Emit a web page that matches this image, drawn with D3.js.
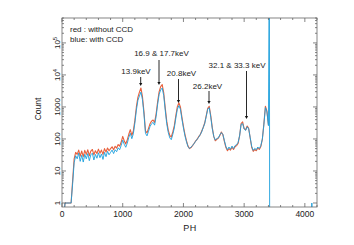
<!DOCTYPE html>
<html>
<head>
<meta charset="utf-8">
<script src="https://cdn.jsdelivr.net/npm/d3@7"></script>
<style>
  body { margin: 0; background: #fff; }
  svg { display: block; font-family: "Liberation Sans", Arial, sans-serif; }
</style>
</head>
<body>
<svg width="354" height="245"></svg>
<script>
const width = 354;
const height = 245;

// pulse height channels
const ph = [
  0, 25, 50, 75, 100, 125, 150, 175, 200, 225,
  250, 275, 300, 325, 350, 375, 400, 425, 450, 475,
  500, 525, 550, 575, 600, 625, 650, 675, 700, 725,
  750, 775, 800, 825, 850, 875, 900, 925, 950, 975,
  1000, 1025, 1050, 1075, 1100, 1125, 1150, 1175, 1200, 1225,
  1250, 1275, 1300, 1325, 1350, 1375, 1400, 1425, 1450, 1475,
  1500, 1525, 1550, 1575, 1600, 1625, 1650, 1675, 1700, 1725,
  1750, 1775, 1800, 1825, 1850, 1875, 1900, 1925, 1950, 1975,
  2000, 2025, 2050, 2075, 2100, 2125, 2150, 2175, 2200, 2225,
  2250, 2275, 2300, 2325, 2350, 2375, 2400, 2425, 2450, 2475,
  2500, 2525, 2550, 2575, 2600, 2625, 2650, 2675, 2700, 2725,
  2750, 2775, 2800, 2825, 2850, 2875, 2900, 2925, 2950, 2975,
  3000, 3025, 3050, 3075, 3100, 3125, 3150, 3175, 3200, 3225,
  3250, 3275, 3300, 3325, 3350, 3375, 3400,
  3415, 3420, 4100, 4115, 4130, 4200
];

// red : without CCD
const redCounts = [
  0, 0, 1, 1, 1, 1, 1, 5, 24, 38,
  33, 45, 29, 42, 28, 44, 33, 46, 30, 42,
  47, 32, 43, 35, 48, 36, 45, 33, 50, 39,
  52, 43, 50, 57, 46, 59, 52, 67, 60, 80,
  120, 88, 70, 94, 140, 195, 130, 178, 380, 1000,
  2000, 2900, 3900, 2100, 700, 180, 155, 215, 300, 360,
  390, 330, 600, 1450, 3000, 4300, 5000, 2800, 950, 360,
  190, 130, 115, 165, 260, 540, 1020, 1350, 1000, 480,
  250, 140, 88, 60, 50, 54, 62, 72, 86, 97,
  118, 135, 175, 228, 315, 530, 900, 1050, 540, 230,
  118, 88, 98, 106, 128, 165, 136, 82, 54, 43,
  50, 45, 55, 47, 57, 62, 72, 125, 300, 340,
  210, 195, 255, 215, 105, 54, 41, 47, 43, 52,
  47, 58, 98, 300, 1050, 750, 280,
  null, null, null, null, null, null
];

// blue: with CCD
const blueCounts = [
  0, 0, 1, 1, 1, 1, 1, 4, 18, 30,
  24, 36, 20, 31, 19, 33, 24, 35, 21, 32,
  36, 22, 33, 25, 37, 26, 34, 23, 38, 28,
  41, 32, 38, 45, 35, 46, 40, 53, 46, 63,
  92, 68, 55, 74, 112, 150, 102, 145, 310, 800,
  1600, 2200, 2900, 1700, 600, 150, 125, 175, 245, 300,
  330, 270, 500, 1200, 2500, 3400, 3900, 2300, 800, 300,
  160, 108, 95, 140, 220, 450, 850, 1100, 850, 420,
  220, 125, 82, 58, 50, 56, 62, 72, 84, 98,
  112, 135, 165, 225, 300, 500, 850, 950, 480, 210,
  120, 92, 104, 108, 135, 158, 138, 88, 58, 46,
  56, 48, 60, 50, 62, 66, 78, 125, 285, 300,
  205, 185, 240, 205, 110, 58, 44, 51, 46, 56,
  50, 62, 100, 280, 950, 700, 260,
  1e8, 0, 0, 1, 0, 0
];

const xTicks = [0, 1000, 2000, 3000, 4000];
const yTicks = [1, 10, 100, 1000, 1e4, 1e5];
const yTickLabels = ["1", "10", "100", "1000", "10|4", "10|5"];

const annotations = [
  { text: "13.9keV", tx: 136, ty: 74, ax: 140.7, y1: 77, y2: 86 },
  { text: "16.9 & 17.7keV", tx: 161.5, ty: 56, ax: 159, y1: 60, y2: 85 },
  { text: "20.8keV", tx: 181.5, ty: 76, ax: 178.5, y1: 79, y2: 103 },
  { text: "26.2keV", tx: 207.5, ty: 89, ax: 209, y1: 91, y2: 104 },
  { text: "32.1 & 33.3 keV", tx: 237, ty: 68, ax: 246.5, y1: 71, y2: 119 }
];

const svg = d3.select('svg');

const x = d3.scaleLinear().domain([0, 4200]).range([62, 317]);
const y = d3.scaleLog().domain([0.75, 600000]).range([207, 18]);

svg.append('clipPath').attr('id', 'plotClip')
  .append('rect')
  .attr('x', x(0)).attr('y', y(600000))
  .attr('width', x(4200) - x(0)).attr('height', y(0.75) - y(600000));

const line = values => d3.line()
  .defined(d => d !== null)
  .x((d, i) => x(ph[i]))
  .y(d => y(Math.max(d, 0.3)))(values);

const plot = svg.append('g').attr('clip-path', 'url(#plotClip)');
plot.append('path')
  .attr('d', line(redCounts))
  .attr('fill', 'none')
  .attr('stroke', '#e8603c')
  .attr('stroke-width', 1.1)
  .attr('stroke-linejoin', 'round');
plot.append('path')
  .attr('d', line(blueCounts))
  .attr('fill', 'none')
  .attr('stroke', '#1c9fdc')
  .attr('stroke-width', 0.9)
  .attr('stroke-linejoin', 'round');

// frame
svg.append('rect')
  .attr('x', x(0)).attr('y', y(600000))
  .attr('width', x(4200) - x(0)).attr('height', y(0.75) - y(600000))
  .attr('fill', 'none').attr('stroke', '#666').attr('stroke-width', 0.8);

// inward ticks
const tickG = svg.append('g').attr('stroke', '#666').attr('stroke-width', 0.8);
d3.range(0, 4201, 200).forEach(v => {
  const len = v % 1000 === 0 ? 4 : 2;
  tickG.append('line').attr('x1', x(v)).attr('x2', x(v)).attr('y1', 207).attr('y2', 207 - len);
  tickG.append('line').attr('x1', x(v)).attr('x2', x(v)).attr('y1', 18).attr('y2', 18 + len);
});
const yMinor = [];
[1, 10, 100, 1000, 1e4, 1e5].forEach(d => {
  for (let k = 1; k <= 9; k++) if (d * k <= 600000) yMinor.push(d * k);
});
yMinor.forEach(v => {
  const len = yTicks.includes(v) ? 4 : 2;
  tickG.append('line').attr('x1', 62).attr('x2', 62 + len).attr('y1', y(v)).attr('y2', y(v));
  tickG.append('line').attr('x1', 317).attr('x2', 317 - len).attr('y1', y(v)).attr('y2', y(v));
});

// x tick labels
svg.append('g').selectAll('text').data(xTicks).join('text')
  .attr('x', d => x(d)).attr('y', 217)
  .attr('text-anchor', 'middle')
  .attr('font-size', 8.5).attr('fill', '#222')
  .text(d => d);

// y tick labels (rotated)
yTicks.forEach((v, i) => {
  const t = svg.append('text')
    .attr('transform', `translate(60,${y(v)}) rotate(-90)`)
    .attr('text-anchor', 'middle')
    .attr('font-size', 8).attr('fill', '#222');
  const parts = yTickLabels[i].split('|');
  t.append('tspan').text(parts[0]);
  if (parts[1]) t.append('tspan').attr('dy', -3).attr('font-size', 6).text(parts[1]);
});

svg.append('text')
  .attr('transform', 'translate(41,109) rotate(-90)')
  .attr('text-anchor', 'middle')
  .attr('font-size', 8.5).attr('fill', '#222')
  .text('Count');

svg.append('text')
  .attr('x', 190).attr('y', 231)
  .attr('text-anchor', 'middle')
  .attr('font-size', 9).attr('fill', '#222')
  .attr('letter-spacing', 0.5)
  .text('PH');

// legend
svg.append('text').attr('x', 70).attr('y', 32)
  .attr('font-size', 8).attr('fill', '#222').text('red : without CCD');
svg.append('text').attr('x', 70).attr('y', 42)
  .attr('font-size', 8).attr('fill', '#222').text('blue: with CCD');

// annotations
const ann = svg.append('g');
annotations.forEach(a => {
  ann.append('text').attr('x', a.tx).attr('y', a.ty)
    .attr('text-anchor', 'middle')
    .attr('font-size', 8).attr('fill', '#222')
    .text(a.text);
  ann.append('line')
    .attr('x1', a.ax).attr('x2', a.ax).attr('y1', a.y1).attr('y2', a.y2 - 2)
    .attr('stroke', '#111').attr('stroke-width', 0.9);
  ann.append('path')
    .attr('d', `M${a.ax - 1.6},${a.y2 - 3}L${a.ax + 1.6},${a.y2 - 3}L${a.ax},${a.y2}Z`)
    .attr('fill', '#111');
});
</script>
</body>
</html>
